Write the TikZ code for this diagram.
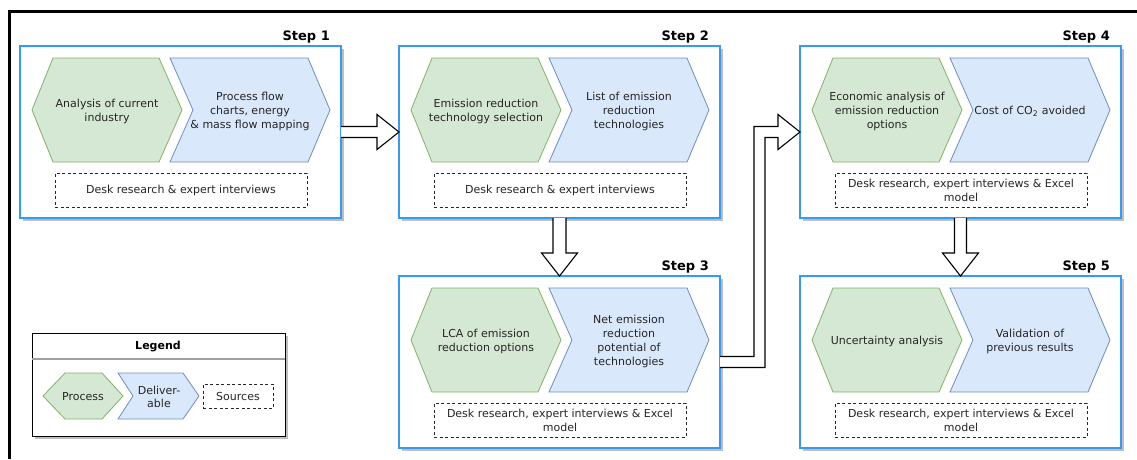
\documentclass[tikz,border=0pt]{standalone}
\usepackage{fontspec}
\setmainfont{DejaVu Sans}
\usetikzlibrary{calc}

\definecolor{frameblue}{RGB}{51,153,255}
\definecolor{procfill}{HTML}{D5E8D4}
\definecolor{procline}{HTML}{82B366}
\definecolor{delfill}{HTML}{DAE8FC}
\definecolor{delline}{HTML}{6C8EBF}
\definecolor{textc}{HTML}{262626}
\definecolor{shadowc}{RGB}{190,190,190}

\tikzset{
  stepframe/.style={draw=frameblue, line width=1.3pt, fill=white,
    minimum width=321pt, minimum height=172pt, inner sep=0pt, outer sep=0pt},
  steplabel/.style={font=\fontsize{13}{15}\selectfont\bfseries, text=black, inner sep=0pt},
  process/.style={draw=procline, fill=procfill, line width=0.8pt, line join=miter},
  deliv/.style={draw=delline, fill=delfill, line width=0.8pt, line join=miter},
  txt/.style={align=center, font=\fontsize{11}{14}\selectfont, text=textc, inner sep=0pt},
  src/.style={draw=textc, dash pattern=on 3pt off 2.5pt, line width=0.9pt,
    align=center, font=\fontsize{11}{14}\selectfont, text=textc, inner sep=0pt},
  blockarrow/.style={draw=black, fill=white, line width=1.1pt, line join=miter},
}

% one step of the method: frame, label, process, deliverable and sources
\newcommand\methodstep[7]{%
  \begin{scope}[shift={(#2,#3)}]
    \fill[shadowc] (3,3) rectangle (324,175);
    \node[stepframe, anchor=north west] (#1) at (0,0) {};
    \node[steplabel, anchor=base east] (#1-lbl) at (310,-6) {#4};
    \draw[process] (12,64) -- (33,12) -- (139,12) -- (162,64) -- (139,116) -- (33,116) -- cycle;
    \node[txt] (#1-p) at (87,65) {#5};
    \draw[deliv] (150,12) -- (288,12) -- (310,64) -- (288,116) -- (150,116) -- (173,64) -- cycle;
    \node[txt] (#1-d) at (230,65) {#6};
    \node[src, minimum width=252pt, minimum height=34pt] (#1-s) at (161,144) {#7};
  \end{scope}}

\begin{document}
\begin{tikzpicture}[x=1pt, y=-1pt]
  \useasboundingbox (0,0) rectangle (1137,459);
  \fill[white] (0,0) rectangle (1137,459);

  % outer frame
  \draw[line width=2.5pt, line cap=square] (9.5,459) -- (9.5,11.3) -- (1137,11.3);

  \methodstep{s1}{20}{46}{Step 1}{Analysis of current\\industry}
    {Process flow\\charts, energy\\\& mass flow mapping}{Desk research \& expert interviews}
  \methodstep{s2}{399}{46}{Step 2}{Emission reduction\\technology selection}
    {List of emission\\reduction\\technologies}{Desk research \& expert interviews}
  \methodstep{s4}{800}{46}{Step 4}{Economic analysis of\\emission reduction\\options}
    {Cost of CO\textsubscript{2} avoided}{Desk research, expert interviews \& Excel\\model}
  \methodstep{s3}{399}{276}{Step 3}{LCA of emission\\reduction options}
    {Net emission\\reduction\\potential of\\technologies}{Desk research, expert interviews \& Excel\\model}
  \methodstep{s5}{800}{276}{Step 5}{Uncertainty analysis}
    {Validation of\\previous results}{Desk research, expert interviews \& Excel\\model}

  % step 1 -> step 2
  \draw[blockarrow] let \p1=(s1.east), \p2=(s2.west) in
    (\x1,\y1+5.5pt) -- (\x2-22pt,\y1+5.5pt) -- (\x2-22pt,\y2+17.5pt) -- (\x2,\y2)
    -- (\x2-22pt,\y2-17.5pt) -- (\x2-22pt,\y1-5.5pt) -- (\x1,\y1-5.5pt);

  % step 2 -> step 3
  \draw[blockarrow] let \p1=(s2.south), \p2=(s3.north) in
    (\x1-6.5pt,\y1) -- (\x1-6.5pt,\y2+23pt) -- (\x1-18pt,\y2+23pt) -- (\x2,\y2)
    -- (\x1+18pt,\y2+23pt) -- (\x1+6.5pt,\y2+23pt) -- (\x1+6.5pt,\y1);

  % step 4 -> step 5
  \draw[blockarrow] let \p1=(s4.south), \p2=(s5.north) in
    (\x1-6pt,\y1) -- (\x1-6pt,\y2+23pt) -- (\x1-18pt,\y2+23pt) -- (\x2,\y2)
    -- (\x1+18pt,\y2+23pt) -- (\x1+6pt,\y2+23pt) -- (\x1+6pt,\y1);

  % step 3 -> step 4 (elbow)
  \draw[blockarrow] let \p1=(s3.east), \p2=(s4.west) in
    (\x1,\y1+5.5pt) -- (\x1+34pt,\y1+5.5pt) -- (\x1+34pt,\y2+5.5pt)
    -- (\x2-22pt,\y2+5.5pt) -- (\x2-22pt,\y2+17.5pt) -- (\x2,\y2)
    -- (\x2-22pt,\y2-17.5pt) -- (\x2-22pt,\y2-5.5pt) -- (\x1+45pt,\y2-5.5pt)
    -- (\x1+45pt,\y1-5.5pt) -- (\x1,\y1-5.5pt);

  % legend
  \fill[shadowc] (35,336) rectangle (288,439);
  \draw[black, line width=1pt, fill=white] (32,333) rectangle (285,436);
  \draw[gray!75, line width=2.5pt] (32,359) -- (285,359);
  \node[font=\fontsize{11}{13}\selectfont\bfseries, inner sep=0pt] (legend) at (158,346) {Legend};
  \draw[process] (43,396) -- (65,373) -- (102,373) -- (123,396) -- (102,419) -- (65,419) -- cycle;
  \node[txt] (lg-p) at (83,397) {Process};
  \draw[deliv] (118,373) -- (183,373) -- (199,396) -- (183,419) -- (118,419) -- (133,396) -- cycle;
  \node[txt, font=\fontsize{11}{13}\selectfont] (lg-d) at (159,397) {Deliver-\\able};
  \node[src, minimum width=70pt, minimum height=24pt] (lg-s) at (238,396) {Sources};
\end{tikzpicture}
\end{document}
